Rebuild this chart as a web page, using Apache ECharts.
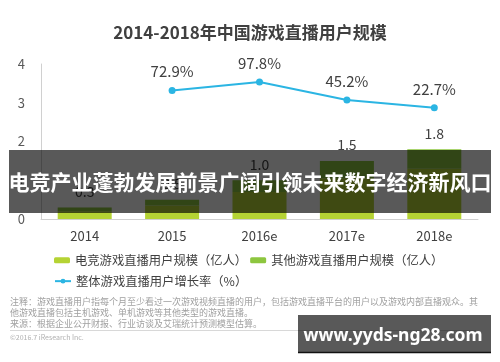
<!DOCTYPE html>
<html>
<head>
<meta charset="utf-8">
<script src="https://cdn.jsdelivr.net/npm/echarts@6/dist/echarts.min.js"></script>
<style>
html,body{margin:0;padding:0;background:#fff;}
#c{width:500px;height:362px;}
</style>
</head>
<body>
<div id="c"></div>
<script>
const categories = ['2014', '2015', '2016e', '2017e', '2018e'];
const esportsUsers = [0.2, 0.35, 0.7, 1.05, 1.3];
const otherUsers = [0.1, 0.15, 0.3, 0.45, 0.5];
const totalUsers = [0.3, 0.5, 1.0, 1.5, 1.8];
const growthRate = [null, 72.9, 97.8, 45.2, 22.7];
const yTicks = [0, 1, 2, 3, 4];

const FONT = '"Noto Sans CJK SC", "Noto Sans", sans-serif';
const chart = echarts.init(document.getElementById('c'), null, {renderer: 'canvas'});

const noteLines = [
  '注释：游戏直播用户指每个月至少看过一次游戏视频直播的用户，包括游戏直播平台的用户以及游戏内部直播观众。其',
  '他游戏直播包括主机游戏、单机游戏等其他类型的游戏直播。',
  '来源：根据企业公开财报、行业访谈及艾瑞统计预测模型估算。'
];

chart.setOption({
  animation: false,
  textStyle: {fontFamily: FONT},
  title: {
    text: '2014-2018年中国游戏直播用户规模',
    left: 'center',
    top: 19,
    textStyle: {fontSize: 17, fontWeight: 'bold', color: '#404040', fontFamily: FONT}
  },
  grid: {left: 41, right: 22, top: 64, bottom: 143},
  legend: [
    {
      data: ['电竞游戏直播用户规模（亿人）', '其他游戏直播用户规模（亿人）'],
      left: 54, top: 254, padding: 0,
      itemWidth: 16, itemHeight: 6, itemGap: 3,
      textStyle: {fontSize: 12.3, color: '#404040', fontFamily: FONT}
    },
    {
      data: ['整体游戏直播用户增长率（%）'],
      left: 54, top: 275, padding: 0,
      itemWidth: 16, itemHeight: 6,
      textStyle: {fontSize: 12.3, color: '#404040', fontFamily: FONT}
    }
  ],
  xAxis: {
    type: 'category',
    data: categories,
    axisLine: {lineStyle: {color: '#d0d0d0'}},
    axisTick: {show: false},
    axisLabel: {color: '#404040', fontSize: 13, margin: 11}
  },
  yAxis: [
    {
      type: 'value', min: 0, max: 4, interval: 1,
      axisLine: {show: true, lineStyle: {color: '#d0d0d0'}},
      axisTick: {show: false},
      splitLine: {show: false},
      axisLabel: {color: '#595959', fontSize: 13, margin: 16,
        formatter: v => yTicks.includes(v) ? String(v) : ''}
    },
    {
      type: 'value', min: -300, max: 150, show: false,
      splitLine: {show: false}
    }
  ],
  series: [
    {
      name: '电竞游戏直播用户规模（亿人）',
      type: 'bar', stack: 'u', barWidth: 54,
      data: esportsUsers,
      itemStyle: {color: '#b5d334'}
    },
    {
      name: '其他游戏直播用户规模（亿人）',
      type: 'bar', stack: 'u', barWidth: 54,
      data: otherUsers,
      itemStyle: {color: '#8dc63f'},
      label: {
        show: true, position: 'top', distance: 9,
        color: '#404040', fontSize: 14,
        formatter: p => totalUsers[p.dataIndex].toFixed(1)
      }
    },
    {
      name: '整体游戏直播用户增长率（%）',
      type: 'line', yAxisIndex: 1,
      data: growthRate,
      symbol: 'circle', symbolSize: 7,
      lineStyle: {color: '#2bb5e3', width: 2},
      itemStyle: {color: '#2bb5e3'},
      label: {
        show: true, position: 'top', distance: 8,
        color: '#404040', fontSize: 15,
        formatter: p => p.value.toFixed(1) + '%'
      }
    }
  ],
  graphic: [
    ...noteLines.map((t, i) => ({
      type: 'text', left: 10, top: 297 + i * 11, z: 50,
      style: {text: t, fill: '#a0a0a0', fontSize: 9, fontFamily: FONT}
    })),
    {
      type: 'line', z: 50,
      shape: {x1: 10, y1: 330.5, x2: 476, y2: 330.5},
      style: {stroke: '#d8d8d8', lineWidth: 1}
    },
    {
      type: 'text', left: 10, top: 334, z: 50,
      style: {text: '©2016.7 iResearch Inc.', fill: '#b0b0b0', fontSize: 7, fontFamily: FONT}
    },
    {
      type: 'rect', z: 100,
      shape: {x: 9, y: 150, width: 482, height: 63},
      style: {fill: 'rgba(0,0,0,0.65)'}
    },
    {
      type: 'text', z: 101,
      x: 250, y: 182,
      style: {
        text: '电竞产业蓬勃发展前景广阔引领未来数字经济新风口',
        fill: '#ffffff', fontSize: 21, fontWeight: 'bold', fontFamily: FONT,
        align: 'center', verticalAlign: 'middle'
      }
    },
    {
      type: 'rect', z: 100,
      shape: {x: 298, y: 315, width: 193, height: 37},
      style: {fill: 'rgba(0,0,0,0.65)'}
    },
    {
      type: 'line', z: 100,
      shape: {x1: 298, y1: 352.5, x2: 491, y2: 352.5},
      style: {stroke: '#111', lineWidth: 1.5}
    },
    {
      type: 'text', z: 101,
      x: 393, y: 336,
      style: {
        text: 'www.yyds-ng28.com',
        fill: '#ffffff', fontSize: 17.5, fontWeight: 'bold', fontFamily: '"Noto Sans", "Open Sans", sans-serif',
        align: 'center', verticalAlign: 'middle'
      }
    }
  ]
});
</script>
</body>
</html>
